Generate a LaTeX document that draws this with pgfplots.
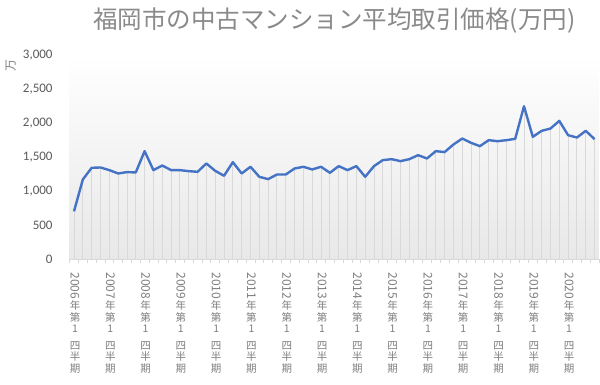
\documentclass[border=0pt]{standalone}
\usepackage{pgfplots}
\pgfplotsset{compat=1.18}
\usepackage{fontspec}
\setmainfont{Noto Sans CJK JP}
\newfontfamily\cjk{Noto Sans CJK JP}
\newfontfamily\numfont{Carlito}
\definecolor{lineblue}{HTML}{4472C4}
\definecolor{titlegray}{HTML}{8A8A8A}
\definecolor{tickgray}{HTML}{595959}
\definecolor{labgray}{HTML}{7F7F7F}
\definecolor{dropgray}{HTML}{D9D9D9}
\newcommand{\qlab}[1]{\rotatebox{-90}{\fontsize{12}{12}\selectfont #1}\\[1pt]年\\第\\1\\[5pt]四\\半\\期}
\pgfplotstableread{
x y
0 700
1 1168
2 1339
3 1344
4 1305
5 1256
6 1276
7 1271
8 1584
9 1305
10 1373
11 1305
12 1305
13 1290
14 1280
15 1403
16 1295
17 1222
18 1422
19 1256
20 1354
21 1207
22 1173
23 1241
24 1241
25 1329
26 1354
27 1315
28 1354
29 1266
30 1364
31 1305
32 1364
33 1207
34 1364
35 1452
36 1466
37 1437
38 1466
39 1525
40 1476
41 1584
42 1570
43 1681
44 1769
45 1706
46 1657
47 1745
48 1730
49 1745
50 1764
51 2243
52 1794
53 1882
54 1916
55 2028
56 1818
57 1784
58 1882
59 1760
}\pricedata
\begin{document}
\begin{tikzpicture}
\useasboundingbox (0,0) rectangle (600pt,384pt);
\begin{axis}[
  at={(69.6pt,125pt)}, anchor=south west,
  scale only axis, width=529.4pt, height=204.3pt,
  xmin=-0.5, xmax=59.5, ymin=0, ymax=3000,
  axis x line*=bottom, axis y line*=left,
  x axis line style={draw=dropgray, line width=0.8pt},
  y axis line style={draw=none},
  ytick={0,500,...,3000},
  ytick style={draw=none},
  yticklabel style={font=\numfont\fontsize{13}{15}\selectfont, text=tickgray, inner sep=0pt, anchor=east, xshift=-12.6pt},
  /pgf/number format/assume math mode=true,
  /pgf/number format/1000 sep={,},
  xtick={0,4,...,56},
  xticklabels={\qlab{2006},\qlab{2007},\qlab{2008},\qlab{2009},\qlab{2010},\qlab{2011},\qlab{2012},\qlab{2013},\qlab{2014},\qlab{2015},\qlab{2016},\qlab{2017},\qlab{2018},\qlab{2019},\qlab{2020}},
  major x tick style={draw=none},
  minor xtick={-0.5,0.5,...,59.5},
  minor x tick style={draw=dropgray, line width=0.6pt},
  minor tick length=4pt,
  tick align=outside,
  xticklabel style={font=\cjk\fontsize{10.5}{11.5}\selectfont, text=labgray, align=center, anchor=north, inner sep=0pt, yshift=-9pt, xshift=1pt},
  axis background/.style={shade, top color=white, bottom color=black!9},
  title={福岡市の中古マンション平均取引価格(万円)},
  title style={font=\cjk\fontsize{24.5}{28}\selectfont, text=titlegray, anchor=center, at={(axis description cs:0.5,1.14)}},
  ylabel={万},
  ylabel style={font=\cjk\fontsize{12}{14}\selectfont, text=labgray, anchor=center, at={(axis description cs:-0.111,0.945)}, rotate=0},
  clip=false,
]
\addplot[ycomb, draw=dropgray, line width=0.9pt, no marks] table[x=x,y=y] {\pricedata};
\addplot[draw=lineblue, line width=2.4pt, no marks, line join=round] table[x=x,y=y] {\pricedata};
\end{axis}
\end{tikzpicture}
\end{document}
